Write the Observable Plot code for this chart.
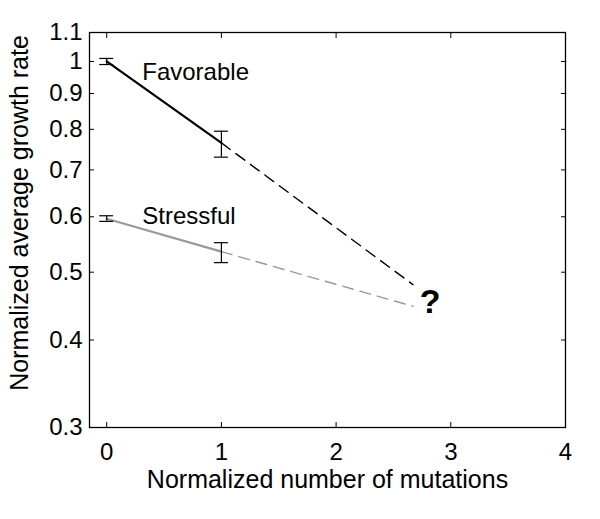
<!DOCTYPE html>
<html><head><meta charset="utf-8">
<script src="https://cdn.jsdelivr.net/npm/d3@7"></script>
<script src="https://cdn.jsdelivr.net/npm/@observablehq/plot@0.6"></script>
<style>body{margin:0;background:#fff}</style>
</head><body><div id="chart"></div>
<script>
// Measured points
const mutations = [0, 1];
const favorable = [1.0, 0.765];
const favorableLo = [0.99, 0.73];
const favorableHi = [1.01, 0.795];
const stressful = [0.596, 0.535];
const stressfulLo = [0.591, 0.516];
const stressfulHi = [0.602, 0.551];
// Extrapolation (dashed)
const extrapX = [1, 2.67];
const favorableExtrap = [0.765, 0.48];
const stressfulExtrap = [0.535, 0.447];
// Annotations
const labelText = ["Favorable", "Stressful"];
const labelX = [0.31, 0.31];
const labelY = [0.965, 0.6];
const questionText = ["?"];
const questionX = [2.82];
const questionY = [0.453];
// Ticks
const xTicks = [0, 1, 2, 3, 4];
const yTicks = [0.3, 0.4, 0.5, 0.6, 0.7, 0.8, 0.9, 1, 1.1];
const xLabel = "Normalized number of mutations";
const yLabel = "Normalized average growth rate";

const rows = (xs, ys) => xs.map((x, i) => ({x, y: ys[i]}));
const errRows = (xs, ys, lo, hi) => xs.map((x, i) => ({x, y: ys[i], lo: lo[i], hi: hi[i]}));

const favRows = rows(mutations, favorable);
const strRows = rows(mutations, stressful);
const favExt = rows(extrapX, favorableExtrap);
const strExt = rows(extrapX, stressfulExtrap);
const errs = [...errRows(mutations, favorable, favorableLo, favorableHi), ...errRows(mutations, stressful, stressfulLo, stressfulHi)];
const labels = labelText.map((t, i) => ({t, x: labelX[i], y: labelY[i]}));
const qm = questionText.map((t, i) => ({t, x: questionX[i], y: questionY[i]}));

const chart = Plot.plot({
  width: 600,
  height: 519,
  marginLeft: 89,
  marginRight: 35,
  marginTop: 32,
  marginBottom: 92,
  style: {fontFamily: "'Liberation Sans', Arial, sans-serif", fontSize: "24px", color: "black", background: "white", overflow: "visible"},
  x: {domain: [-0.15, 4]},
  y: {type: "log", domain: [0.3, 1.1]},
  marks: [
    Plot.axisX({anchor: "bottom", ticks: xTicks, tickSize: -5, tickPadding: 20, tickFormat: d => String(d), label: null}),
    Plot.text([xLabel], {frameAnchor: "bottom", textAnchor: "middle", dy: 60, text: d => d, fontSize: 25, fill: "black"}),
    Plot.axisX({anchor: "top", ticks: xTicks, tickSize: -5, tickFormat: () => "", label: null}),
    Plot.axisY({anchor: "left", ticks: yTicks, tickSize: -5, tickPadding: 12, tickFormat: d => String(d), label: null}),
    Plot.axisY({anchor: "right", ticks: yTicks, tickSize: -5, tickFormat: () => "", label: null}),
    Plot.text([yLabel], {frameAnchor: "left", textAnchor: "middle", rotate: -90, dx: -70, dy: -17, text: d => d, fontSize: 25, fill: "black"}),
    Plot.frame({stroke: "black", strokeWidth: 1.3}),
    Plot.line(favExt, {x: "x", y: "y", stroke: "black", strokeWidth: 1.4, strokeDasharray: "11,7"}),
    Plot.line(strExt, {x: "x", y: "y", stroke: "#999999", strokeWidth: 1.4, strokeDasharray: "11,7"}),
    Plot.line(favRows, {x: "x", y: "y", stroke: "black", strokeWidth: 2.2}),
    Plot.line(strRows, {x: "x", y: "y", stroke: "#999999", strokeWidth: 2.2}),
    Plot.ruleX(errs, {x: "x", y1: "lo", y2: "hi", stroke: "black", strokeWidth: 1.2}),
    Plot.ruleY(errs, {y: "lo", x1: "x", x2: "x", insetLeft: -7, insetRight: -7, stroke: "black", strokeWidth: 1.2}),
    Plot.ruleY(errs, {y: "hi", x1: "x", x2: "x", insetLeft: -7, insetRight: -7, stroke: "black", strokeWidth: 1.2}),
    Plot.text(labels, {x: "x", y: "y", text: "t", textAnchor: "start", fontSize: 24, fill: "black"}),
    Plot.text(qm, {x: "x", y: "y", text: "t", fontSize: 34, fontWeight: "bold", fill: "black"})
  ]
});
document.getElementById("chart").appendChild(chart);
</script>
</body></html>
